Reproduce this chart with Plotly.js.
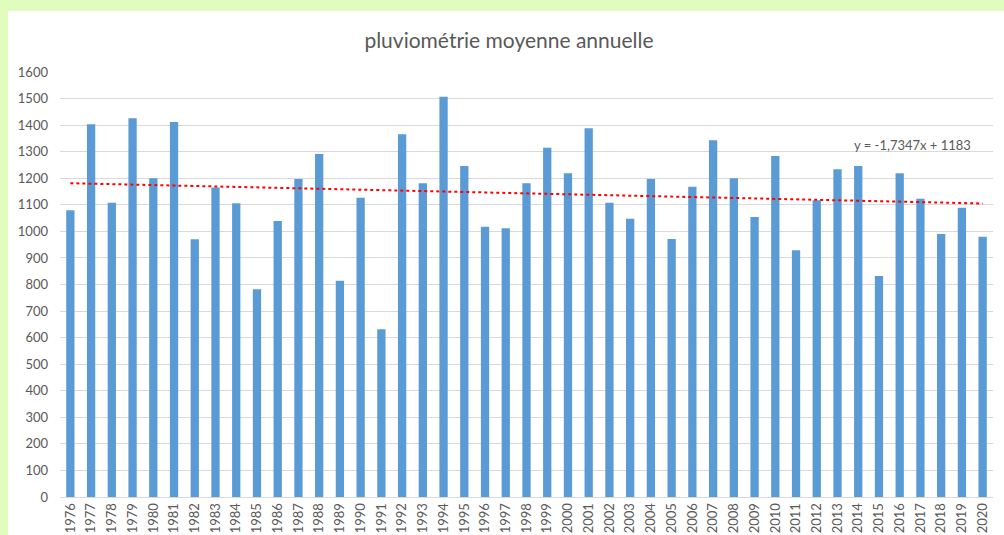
<!DOCTYPE html>
<html>
<head>
<meta charset="utf-8">
<script src="https://cdn.plot.ly/plotly-3.0.1.min.js"></script>
<style>
html, body { margin: 0; padding: 0; width: 1004px; height: 535px; background: #e0fdbd; overflow: hidden; }
#chart { position: absolute; left: 8px; top: 11px; width: 996px; height: 524px; background: #ffffff; }
</style>
</head>
<body>
<div id="chart"></div>
<script>
var years = ["1976","1977","1978","1979","1980","1981","1982","1983","1984","1985","1986","1987","1988","1989","1990",
  "1991","1992","1993","1994","1995","1996","1997","1998","1999","2000","2001","2002","2003","2004","2005",
  "2006","2007","2008","2009","2010","2011","2012","2013","2014","2015","2016","2017","2018","2019","2020"];
var rainfall = [1080,1403,1108,1426,1200,1412,970,1165,1106,782,1039,1197,1291,814,1127,
  632,1366,1181,1507,1246,1017,1012,1181,1315,1219,1388,1108,1048,1197,971,
  1168,1343,1200,1054,1284,929,1117,1234,1246,832,1219,1123,990,1089,980];
var trendSlope = -1.7347;
var trendIntercept = 1183;
var trendLabel = "y = -1,7347x + 1183";
var chartTitle = "pluviométrie moyenne annuelle";

var trendX = [years[0], years[years.length - 1]];
var trendY = [trendSlope * 1 + trendIntercept, trendSlope * years.length + trendIntercept];

var font = "Lato, 'Open Sans', sans-serif";
var grey = "#595959";

var data = [
  { type: "bar", x: years, y: rainfall, marker: { color: "#5b9bd5" }, hoverinfo: "x+y" },
  { type: "scatter", mode: "lines", x: trendX, y: trendY,
    line: { color: "#ff0000", width: 2, dash: "dot" }, hoverinfo: "skip" }
];

var layout = {
  width: 996, height: 524,
  margin: { l: 52, r: 11, t: 61, b: 38 },
  paper_bgcolor: "#ffffff", plot_bgcolor: "#ffffff",
  showlegend: false,
  bargap: 0.6,
  title: { text: chartTitle, x: 0.503, xref: "container", xanchor: "center",
           y: 1 - 30/524, yref: "container", yanchor: "middle",
           font: { family: font, size: 21, color: grey } },
  xaxis: { type: "category", tickangle: -90, tickfont: { family: font, size: 13, color: grey },
           showgrid: false, showline: true, linecolor: "#d9d9d9", linewidth: 1, ticks: "", ticklen: 0 },
  yaxis: { range: [0, 1600], dtick: 100, tick0: 0, tickfont: { family: font, size: 13, color: grey },
           showgrid: true, gridcolor: "#d9d9d9", gridwidth: 1, zeroline: false, showline: false, ticks: "",
           ticklabelstandoff: 11 },
  annotations: [{ text: trendLabel, xref: "paper", x: 0.849, xanchor: "left", yref: "y", y: 1325,
                  yanchor: "middle", showarrow: false, font: { family: font, size: 13, color: grey } }]
};

Plotly.newPlot("chart", data, layout, { displayModeBar: false, staticPlot: true });
</script>
</body>
</html>
